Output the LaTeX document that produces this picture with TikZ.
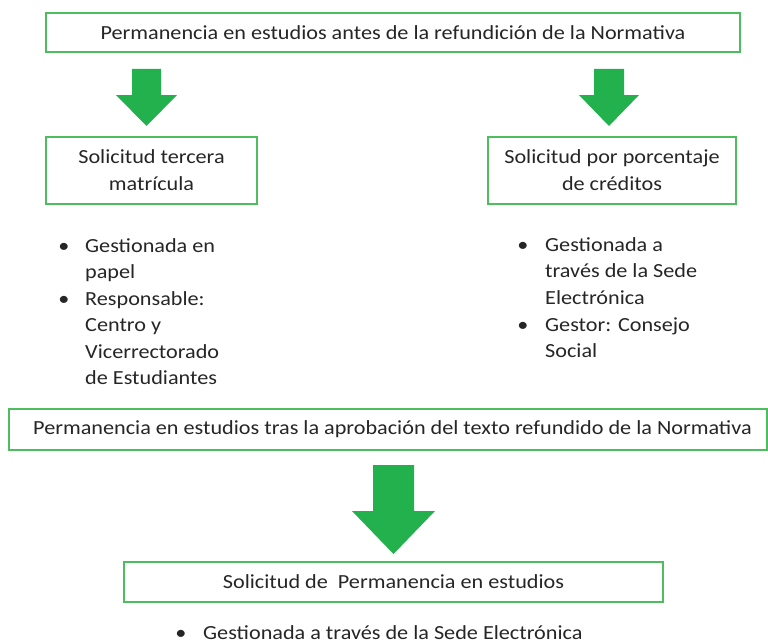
\documentclass[tikz,border=0pt]{standalone}
\usepackage{fontspec}
\setmainfont{Carlito}[FakeStretch=1.11]
\definecolor{boxgreen}{RGB}{77,189,94}
\definecolor{arrgreen}{RGB}{35,177,77}
\definecolor{txt}{RGB}{38,38,38}
\tikzset{
  box/.style={draw=boxgreen, line width=1.4pt, fill=white, inner sep=0pt, text=txt,
    font=\fontsize{20}{27}\selectfont, align=center},
  blockarrow/.style={fill=arrgreen, draw=none},
  item/.style={anchor=base west, inner sep=0pt, text=txt, font=\fontsize{20}{26.5}\selectfont},
  bul/.style={anchor=base, inner sep=0pt, text=txt, font=\fontsize{20}{26.5}\selectfont},
  boxtext/.style={inner sep=0pt, text=txt, font=\fontsize{20}{27}\selectfont}
}
\begin{document}
\begin{tikzpicture}[x=1pt,y=-1pt]
\useasboundingbox (0,0) rectangle (768,642);
\fill[white] (0,0) rectangle (768,642);

\node[box, minimum width=694pt, minimum height=39pt] (top) at (393,32.5)
  {Permanencia en estudios antes de la refundición de la Normativa};

\node[box, minimum width=211pt, minimum height=67pt] (tercera) at (151.5,170.5)
  {Solicitud tercera\\matrícula};
\node[box, minimum width=248pt, minimum height=67pt] (porc) at (612,170.5)
  {Solicitud por porcentaje\\de créditos};

\node[box, minimum width=758pt, minimum height=41pt] (tras) at (388,429.5) {};
\node[boxtext] (trastext) at (392.5,429.5)
  {Permanencia en estudios tras la aprobación del texto refundido de la Normativa};
\node[box, minimum width=539pt, minimum height=40pt] (sol) at (393.5,582)
  {Solicitud de\ \ Permanencia en estudios};

% block arrows
\fill[blockarrow] (132,69) -- (161,69) -- (161,95) -- (177,95) -- (146.5,126) -- (116,95) -- (132,95) -- cycle;
\fill[blockarrow] (594,69) -- (624,69) -- (624,95) -- (639,95) -- (609,126) -- (579,95) -- (594,95) -- cycle;
\fill[blockarrow] (373,465) -- (414,465) -- (414,511) -- (435,511) -- (393.5,554) -- (352,511) -- (373,511) -- cycle;

% left list
\node[bul] (lb1) at (64,252) {•};
\node[item] (l1) at (85,252) {Gestionada en};
\node[item] (l2) at (85,278.5) {papel};
\node[bul] (lb2) at (64,305) {•};
\node[item] (l3) at (85,305) {Responsable:};
\node[item] (l4) at (85,331.5) {Centro y};
\node[item] (l5) at (85,358) {Vicerrectorado};
\node[item] (l6) at (85,384.5) {de Estudiantes};

% right list
\node[bul] (rb1) at (523,251) {•};
\node[item] (r1) at (545,251) {Gestionada a};
\node[item] (r2) at (545,277.5) {través de la Sede};
\node[item] (r3) at (545,304) {Electrónica};
\node[bul] (rb2) at (523,331) {•};
\node[item] (r4) at (545,331) {Gestor: Consejo};
\node[item] (r5) at (545,357.5) {Social};

% bottom item
\node[bul] (bb) at (181,639.5) {•};
\node[item] (bi) at (203,639.5) {Gestionada a través de la Sede Electrónica};
\end{tikzpicture}
\end{document}
